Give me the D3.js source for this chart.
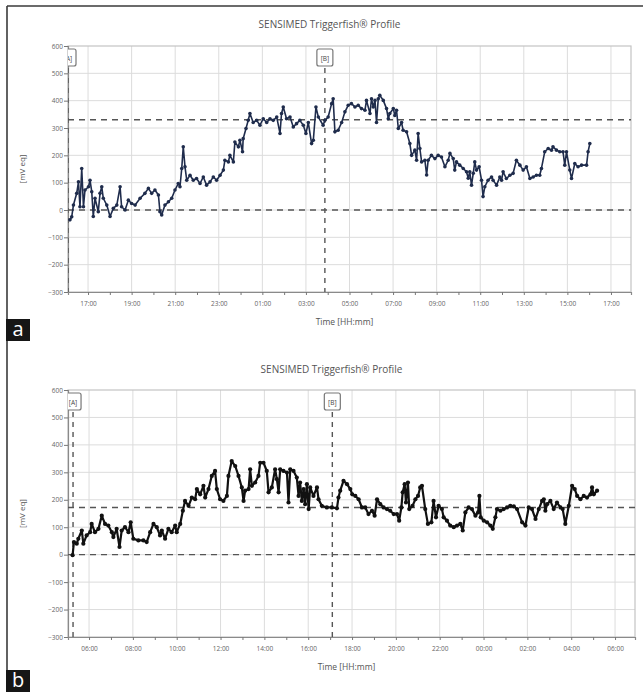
<!DOCTYPE html>
<html><head><meta charset="utf-8">
<script src="https://cdn.jsdelivr.net/npm/d3@7"></script>
<style>
body{margin:0;background:#fff}
svg{display:block}
text{font-family:"Open Sans","DejaVu Sans",sans-serif}
</style>
</head><body>
<svg id="chart" width="643" height="692"></svg>
<script>
// ---------- data ----------
const chartTitle = "SENSIMED Triggerfish® Profile";
const yLabel = "[mV eq]";
const xLabel = "Time [HH:mm]";
const yTicks = [-300,-200,-100,0,100,200,300,400,500,600];
const panelLetters = ["a","b"];
const markerLabels = ["[A]","[B]"];

// panel a: time in hours from midnight of day 1
const topTimes = [
16.17,16.25,16.33,16.48,16.56,16.63,16.71,16.79,16.86,17.02,
17.09,17.17,17.24,17.32,17.47,17.55,17.63,17.70,17.86,18.01,
18.16,18.32,18.47,18.54,18.70,18.85,19.00,19.16,19.39,19.61,
19.77,19.92,20.07,20.23,20.30,20.38,20.53,20.69,20.84,20.99,
21.14,21.22,21.30,21.37,21.45,21.53,21.68,21.83,21.98,22.14,
22.29,22.44,22.60,22.75,22.90,23.06,23.21,23.28,23.44,23.51,
23.67,23.74,23.90,23.97,24.09,24.12,24.25,24.35,24.43,24.58,
24.74,24.89,25.04,25.20,25.35,25.50,25.66,25.81,25.88,25.96,
26.11,26.27,26.42,26.57,26.72,26.88,27.00,27.11,27.26,27.34,
27.46,27.57,27.79,27.87,28.02,28.18,28.25,28.33,28.48,28.64,
28.79,28.94,29.09,29.25,29.40,29.55,29.71,29.78,29.94,30.01,
30.09,30.17,30.24,30.32,30.39,30.55,30.70,30.78,30.85,31.01,
31.08,31.16,31.24,31.39,31.46,31.62,31.77,31.85,32.00,32.08,
32.15,32.23,32.31,32.46,32.54,32.61,32.76,32.92,33.07,33.22,
33.38,33.53,33.61,33.76,33.83,33.91,34.06,34.22,34.37,34.45,
34.52,34.60,34.68,34.75,34.83,34.95,35.06,35.13,35.21,35.36,
35.52,35.59,35.75,35.90,35.98,36.05,36.20,36.36,36.51,36.66,
36.82,36.97,37.12,37.28,37.43,37.58,37.73,37.81,37.96,38.12,
38.27,38.34,38.50,38.65,38.80,38.88,38.96,39.11,39.19,39.34,
39.49,39.65,39.88,39.95,40.03
];
const topValues = [
-36,-25,18,61,103,12,152,12,73,85,
109,67,-24,43,-6,61,85,43,18,-24,
6,18,85,12,0,36,24,18,43,61,
79,61,73,55,-6,-18,18,30,43,73,
97,85,152,231,158,109,127,109,115,97,
121,91,103,121,109,127,146,182,176,200,
176,249,231,255,213,261,298,328,353,320,
328,310,334,320,334,328,340,280,353,377,
334,340,304,316,328,310,280,320,243,255,
377,340,310,328,340,389,407,286,292,320,
359,383,389,377,383,371,365,401,353,407,
377,401,320,407,420,401,371,334,353,371,
346,365,298,320,292,286,243,200,219,182,
280,225,176,182,128,182,200,188,200,194,
158,182,207,188,146,176,164,152,140,116,
140,91,134,176,146,158,109,49,85,109,
121,109,91,121,109,140,115,127,134,182,
164,146,158,115,121,127,127,152,213,225,
219,231,219,213,213,164,213,146,115,170,
158,164,164,213,243
];
const topMean = 330;
const topMarkers = [16.08, 27.87];
const topTickHours = [17,19,21,23,25,27,29,31,33,35,37,39,41];
const topDomain = [16.08, 41.92];

// panel b
const bottomTimes = [
5.25,5.31,5.44,5.51,5.67,5.74,5.89,6.05,6.12,6.27,
6.43,6.58,6.73,6.88,7.04,7.11,7.26,7.39,7.49,7.64,
7.80,7.90,8.02,8.25,8.48,8.63,8.79,8.94,9.09,9.24,
9.32,9.47,9.62,9.77,9.93,10.00,10.16,10.28,10.38,10.54,
10.69,10.84,10.92,11.07,11.22,11.30,11.45,11.60,11.75,11.83,
11.98,12.13,12.29,12.36,12.51,12.67,12.82,12.97,13.05,13.12,
13.28,13.35,13.43,13.58,13.73,13.81,13.96,14.11,14.19,14.34,
14.49,14.57,14.65,14.72,14.87,15.03,15.10,15.18,15.33,15.48,
15.56,15.63,15.71,15.79,15.86,15.94,16.02,16.09,16.24,16.40,
16.47,16.62,16.85,17.08,17.31,17.38,17.46,17.61,17.77,17.92,
18.01,18.15,18.30,18.45,18.60,18.75,18.91,19.03,19.14,19.29,
19.44,19.59,19.74,19.90,20.05,20.15,20.25,20.31,20.40,20.46,
20.55,20.61,20.76,20.89,21.01,21.11,21.19,21.34,21.46,21.62,
21.72,21.83,21.95,22.10,22.18,22.33,22.48,22.64,22.79,22.94,
23.05,23.17,23.32,23.47,23.63,23.75,23.81,23.87,24.01,24.16,
24.31,24.42,24.54,24.61,24.77,24.92,25.07,25.22,25.38,25.53,
25.76,25.91,26.06,26.21,26.37,26.52,26.67,26.75,26.82,26.90,
27.05,27.20,27.35,27.51,27.61,27.73,27.89,28.04,28.16,28.27,
28.42,28.57,28.72,28.88,28.95,29.03,29.18
];
const bottomValues = [
-2,46,40,58,88,40,70,82,112,82,
94,142,112,106,82,64,94,28,88,100,
82,118,58,52,52,46,82,112,100,70,
88,58,94,82,106,82,112,160,196,178,
208,202,239,220,251,208,239,287,305,239,
202,196,214,287,341,323,287,245,196,233,
239,311,251,263,287,335,335,305,227,245,
311,275,227,311,305,299,190,311,305,281,
214,263,196,239,184,257,166,245,214,245,
202,178,172,172,169,208,233,269,257,239,
220,214,202,172,172,148,160,142,202,184,
172,166,160,148,148,124,172,227,257,190,
263,166,178,202,214,245,251,166,112,118,
196,136,178,166,136,124,106,100,106,112,
88,154,172,166,142,154,214,136,124,118,
106,94,136,166,160,166,172,178,176,166,
118,106,172,166,130,166,196,202,160,184,
196,166,190,172,166,112,178,251,239,214,
202,214,208,220,245,220,233
];
const bottomMean = 172;
const bottomMarkers = [5.27, 17.10];
const bottomTickHours = [6,8,10,12,14,16,18,20,22,24,26,28,30];
const bottomDomain = [5.04, 30.91];

// ---------- drawing ----------
const svg = d3.select("#chart");
const base = new Date(2000,0,1,0,0,0).getTime();
const toDate = h => new Date(base + h*3600000);
const fmt = d3.timeFormat("%H:%M");

// outer frame (top & left visible)
svg.append("line").attr("x1",7).attr("y1",6).attr("x2",643).attr("y2",6)
  .attr("stroke","#3a3a3a").attr("stroke-width",1.6);
svg.append("line").attr("x1",7).attr("y1",6).attr("x2",7).attr("y2",692)
  .attr("stroke","#3a3a3a").attr("stroke-width",1.6);

function panel(cfg, idx) {
  const {L,R,T,B,titleY,times,values,mean,markers,tickHours,domain,color,lw,dotR} = cfg;
  const g = svg.append("g");
  const x = d3.scaleTime().domain(domain.map(toDate)).range([L,R]);
  const y = d3.scaleLinear().domain([-300,600]).range([B,T]);
  const clipId = "clip"+idx;
  g.append("clipPath").attr("id",clipId).append("rect")
    .attr("x",L).attr("y",T).attr("width",R-L).attr("height",B-T);

  // title
  g.append("text").attr("x",(L+R)/2 - 20).attr("y",titleY).attr("text-anchor","middle")
    .attr("font-size",10).attr("fill","#555").text(chartTitle);

  // grid
  g.append("g").selectAll("line").data(yTicks.filter(v=>v>-300 && v<600)).join("line")
    .attr("x1",L).attr("x2",R).attr("y1",d=>y(d)).attr("y2",d=>y(d))
    .attr("stroke","#dcdcdc").attr("stroke-width",1);
  g.append("g").selectAll("line").data(tickHours).join("line")
    .attr("x1",d=>x(toDate(d))).attr("x2",d=>x(toDate(d))).attr("y1",T).attr("y2",B)
    .attr("stroke","#dcdcdc").attr("stroke-width",1);
  // border
  g.append("rect").attr("x",L).attr("y",T).attr("width",R-L).attr("height",B-T)
    .attr("fill","none").attr("stroke","#c4c4c4").attr("stroke-width",1.2);

  // axes
  const yAxis = d3.axisLeft(y).tickValues(yTicks).tickSize(4).tickPadding(1);
  const ya = g.append("g").attr("transform",`translate(${L},0)`).call(yAxis);
  ya.select(".domain").attr("stroke","#8a8a8a").attr("stroke-width",1.2);
  ya.selectAll(".tick line").attr("stroke","#777");
  ya.selectAll(".tick text").attr("font-size",6.5).attr("fill","#666")
    .attr("font-family","'Open Sans','DejaVu Sans',sans-serif");

  const allHours = d3.range(Math.ceil(domain[0]), Math.floor(domain[1])+1);
  const xAxis = d3.axisBottom(x).tickValues(allHours.map(toDate)).tickSize(3).tickPadding(6)
    .tickFormat(d => {
      const h = (d.getTime()-base)/3600000;
      return tickHours.some(t=>Math.abs(t-h)<1e-6) ? fmt(d) : "";
    });
  const xa = g.append("g").attr("transform",`translate(0,${B})`).call(xAxis);
  xa.select(".domain").attr("stroke","#8a8a8a").attr("stroke-width",1.2);
  xa.selectAll(".tick line").attr("stroke","#777");
  xa.selectAll(".tick text").attr("font-size",6.5).attr("fill","#666")
    .attr("font-family","'Open Sans','DejaVu Sans',sans-serif");

  // axis titles
  g.append("text").attr("transform",`translate(25,${(T+B)/2}) rotate(-90)`)
    .attr("text-anchor","middle").attr("font-size",8).attr("fill","#555").text(yLabel);
  g.append("text").attr("x",(L+R)/2-5).attr("y",B+33).attr("text-anchor","middle")
    .attr("font-size",8.5).attr("fill","#555").text(xLabel);

  const plot = g.append("g").attr("clip-path",`url(#${clipId})`);
  // dashed reference lines
  [0, mean].forEach(v => {
    plot.append("line").attr("x1",L).attr("x2",R).attr("y1",y(v)).attr("y2",y(v))
      .attr("stroke","#555").attr("stroke-width",1.4).attr("stroke-dasharray","6,5");
  });
  markers.forEach((h,i) => {
    const mx = x(toDate(h));
    plot.append("line").attr("x1",mx).attr("x2",mx).attr("y1",T+22).attr("y2",B)
      .attr("stroke","#555").attr("stroke-width",1.4).attr("stroke-dasharray","5,5");
    plot.append("rect").attr("x",mx-8).attr("y",T+3).attr("width",16).attr("height",17)
      .attr("rx",2).attr("fill","#fff").attr("stroke","#777").attr("stroke-width",1.2);
    plot.append("text").attr("x",mx).attr("y",T+14.5).attr("text-anchor","middle")
      .attr("font-size",6.5).attr("fill","#444").text(markerLabels[i]);
  });

  // series
  const pts = times.map((t,i)=>({t:toDate(t), v:values[i]}));
  const line = d3.line().x(d=>x(d.t)).y(d=>y(d.v));
  plot.append("path").datum(pts).attr("d",line).attr("fill","none")
    .attr("stroke",color).attr("stroke-width",lw).attr("stroke-linejoin","round");
  plot.append("g").selectAll("circle").data(pts).join("circle")
    .attr("cx",d=>x(d.t)).attr("cy",d=>y(d.v)).attr("r",dotR).attr("fill",color);

  // panel letter
  const boxY = idx===0 ? 319 : 670;
  svg.append("rect").attr("x",6).attr("y",boxY).attr("width",24).attr("height",22).attr("fill","#161616");
  svg.append("text").attr("x",18).attr("y",boxY+17).attr("text-anchor","middle")
    .attr("font-size",20).attr("fill","#fff")
    .attr("font-family","'Liberation Sans',Arial,sans-serif").text(panelLetters[idx]);
}

panel({L:68,R:631,T:46,B:292,titleY:28,times:topTimes,values:topValues,mean:topMean,
  markers:topMarkers,tickHours:topTickHours,domain:topDomain,color:"#1f2c4c",lw:1.6,dotR:1.8},0);
panel({L:68,R:635,T:390,B:637,titleY:373,times:bottomTimes,values:bottomValues,mean:bottomMean,
  markers:bottomMarkers,tickHours:bottomTickHours,domain:bottomDomain,color:"#111",lw:2.2,dotR:2.1},1);
</script>
</body></html>
